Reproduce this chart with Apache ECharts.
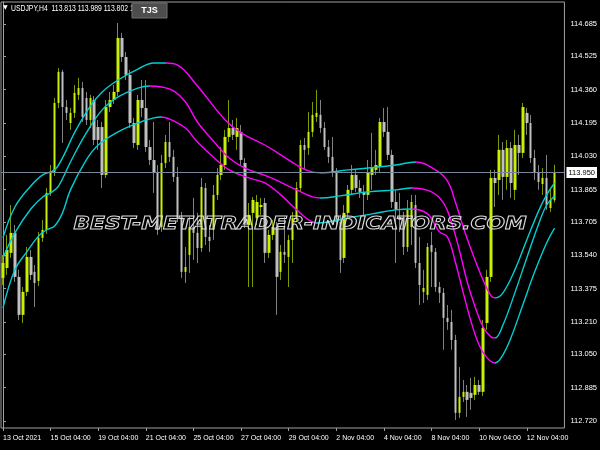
<!DOCTYPE html>
<html>
<head>
<meta charset="utf-8">
<script src="https://cdn.jsdelivr.net/npm/echarts@6/dist/echarts.min.js"></script>
<style>
  html, body { margin: 0; padding: 0; background: #000; }
  #chart { width: 600px; height: 450px; }
</style>
</head>
<body>
<div id="chart"></div>
<script>
// USDJPY H4 bars, [open, close, low, high]
var candles = [
  [113.428, 113.502, 113.393, 113.542], [113.477, 113.567, 113.443, 113.641], [113.552, 113.651, 113.527, 113.789],
  [113.651, 113.433, 113.408, 113.690], [113.433, 113.245, 113.220, 113.468], [113.245, 113.359, 113.205, 113.383],
  [113.359, 113.532, 113.339, 113.581], [113.532, 113.443, 113.418, 113.567], [113.458, 113.403, 113.284, 113.492],
  [113.413, 113.626, 113.388, 113.656], [113.626, 113.666, 113.606, 113.715], [113.666, 113.849, 113.646, 113.873],
  [113.849, 113.953, 113.834, 113.987], [113.953, 114.294, 113.933, 114.319], [114.294, 114.448, 114.269, 114.467],
  [114.448, 114.274, 114.096, 114.458], [114.274, 114.245, 114.210, 114.309], [114.195, 114.245, 114.161, 114.269],
  [114.245, 114.344, 114.220, 114.383], [114.334, 114.368, 114.309, 114.418], [114.368, 114.225, 114.200, 114.398],
  [114.319, 114.210, 114.185, 114.349], [114.210, 114.319, 114.170, 114.334], [114.309, 114.111, 114.086, 114.329],
  [114.175, 114.111, 114.062, 114.210], [114.175, 113.938, 113.873, 114.200], [113.938, 114.274, 113.923, 114.309],
  [114.274, 114.309, 114.250, 114.349], [114.309, 114.349, 114.289, 114.383], [114.349, 114.616, 114.329, 114.690],
  [114.616, 114.522, 114.497, 114.641], [114.522, 114.433, 114.408, 114.547], [114.433, 114.195, 114.170, 114.458],
  [114.195, 114.096, 114.071, 114.220], [114.086, 114.309, 114.062, 114.334], [114.309, 114.269, 114.225, 114.408],
  [114.269, 114.076, 114.052, 114.408], [114.076, 114.012, 113.987, 114.111], [114.012, 113.948, 113.849, 114.200],
  [113.953, 113.666, 113.641, 113.987], [113.680, 113.997, 113.656, 114.037], [113.997, 114.101, 113.972, 114.136],
  [114.101, 114.027, 114.002, 114.200], [114.027, 113.928, 113.903, 114.062], [113.928, 113.730, 113.705, 113.977],
  [113.730, 113.458, 113.428, 113.755], [113.458, 113.482, 113.403, 113.581], [113.542, 113.680, 113.453, 113.730],
  [113.680, 113.651, 113.517, 113.824], [113.651, 113.576, 113.502, 113.750], [113.576, 113.878, 113.557, 113.923],
  [113.873, 113.631, 113.591, 113.898], [113.631, 113.611, 113.557, 113.690], [113.666, 113.839, 113.616, 113.888],
  [113.839, 113.938, 113.814, 113.972], [113.938, 113.987, 113.913, 114.076], [113.987, 114.126, 113.963, 114.161],
  [114.126, 114.170, 114.101, 114.309], [114.170, 114.136, 114.111, 114.210], [114.126, 114.170, 114.062, 114.220],
  [114.151, 114.012, 113.987, 114.185], [113.997, 113.700, 113.675, 114.022], [113.690, 113.740, 113.383, 113.799],
  [113.750, 113.814, 113.383, 113.829], [113.725, 113.804, 113.690, 113.839], [113.779, 113.789, 113.740, 113.824],
  [113.799, 113.552, 113.502, 113.824], [113.552, 113.641, 113.527, 113.666], [113.641, 113.680, 113.616, 113.715],
  [113.680, 113.433, 113.245, 113.705], [113.458, 113.557, 113.418, 113.591], [113.557, 113.542, 113.502, 113.730],
  [113.532, 113.616, 113.383, 113.641], [113.616, 113.725, 113.502, 113.755], [113.725, 113.873, 113.705, 113.903],
  [113.873, 114.086, 113.854, 114.111], [114.086, 114.062, 113.963, 114.121], [114.071, 114.151, 114.037, 114.250],
  [114.151, 114.235, 114.126, 114.299], [114.225, 114.245, 114.200, 114.359], [114.235, 114.170, 114.146, 114.309],
  [114.170, 114.076, 114.062, 114.200], [114.076, 114.027, 113.997, 114.111], [114.027, 113.948, 113.928, 114.126],
  [113.948, 113.705, 113.675, 113.972], [113.705, 113.517, 113.453, 113.740], [113.527, 113.750, 113.502, 113.789],
  [113.750, 113.864, 113.725, 113.888], [113.864, 113.938, 113.839, 113.987], [113.938, 113.873, 113.854, 113.963],
  [113.873, 113.854, 113.824, 113.913], [113.854, 113.839, 113.740, 113.888], [113.839, 113.948, 113.814, 114.012],
  [113.938, 113.972, 113.864, 114.146], [113.963, 113.987, 113.938, 114.062], [113.977, 114.200, 113.953, 114.220],
  [114.200, 114.151, 114.126, 114.269], [114.151, 114.037, 114.012, 114.274], [114.037, 113.804, 113.774, 114.062],
  [113.804, 113.765, 113.502, 113.864], [113.715, 113.730, 113.656, 113.849], [113.730, 113.581, 113.542, 113.755],
  [113.581, 113.765, 113.557, 113.814], [113.680, 113.804, 113.591, 113.839], [113.789, 113.502, 113.477, 113.839],
  [113.502, 113.393, 113.294, 113.631], [113.359, 113.378, 113.304, 113.468], [113.344, 113.581, 113.319, 113.601],
  [113.591, 113.557, 113.383, 113.656], [113.557, 113.383, 113.359, 113.576], [113.383, 113.354, 113.304, 113.408],
  [113.354, 113.230, 113.072, 113.378], [113.230, 113.210, 113.171, 113.294], [113.210, 113.121, 113.072, 113.270],
  [113.121, 112.760, 112.725, 113.146], [112.760, 112.839, 112.735, 112.987], [112.839, 112.864, 112.814, 112.923],
  [112.864, 112.824, 112.740, 112.898], [112.859, 112.834, 112.775, 112.933], [112.849, 112.898, 112.824, 112.938],
  [112.898, 112.864, 112.849, 112.923], [112.864, 113.180, 112.844, 113.220], [113.205, 113.433, 113.171, 113.468],
  [113.433, 113.923, 113.408, 113.963], [113.923, 113.898, 113.779, 113.963], [113.913, 114.062, 113.839, 114.136],
  [114.062, 113.928, 113.814, 114.101], [113.928, 114.071, 113.864, 114.111], [114.071, 113.898, 113.824, 114.101],
  [113.864, 114.086, 113.814, 114.161], [114.086, 114.047, 113.938, 114.136], [114.047, 114.274, 114.022, 114.294],
  [114.245, 114.195, 114.136, 114.269], [114.195, 114.022, 113.997, 114.235], [114.022, 113.948, 113.913, 114.062],
  [113.948, 113.903, 113.864, 113.987], [113.893, 113.923, 113.839, 113.972], [113.923, 113.789, 113.765, 114.037],
  [113.774, 113.814, 113.755, 113.864], [113.813, 113.950, 113.802, 113.989]
];

// one date label every 12 bars
var timeLabels = ['13 Oct 2021', '15 Oct 04:00', '19 Oct 04:00', '21 Oct 04:00', '25 Oct 04:00', '27 Oct 04:00',
  '29 Oct 04:00', '2 Nov 04:00', '4 Nov 04:00', '8 Nov 04:00', '10 Nov 04:00', '12 Nov 04:00'];

var priceTicks = [114.685, 114.525, 114.360, 114.195, 114.030, 113.865, 113.705, 113.540,
  113.375, 113.210, 113.050, 112.885, 112.720];

// bands, [bar index, price]
var upperBand = [[0, 113.626], [3, 113.779], [7, 113.883], [10, 113.938], [13, 113.963], [15, 114.022],
  [18, 114.146], [22, 114.279], [25, 114.349], [29, 114.408], [34, 114.462], [38, 114.492], [41, 114.492],
  [44, 114.482], [49, 114.378], [56, 114.210], [60, 114.146], [66, 114.086], [70, 114.037], [74, 113.987],
  [77, 113.958], [80, 113.948], [87, 113.963], [92, 113.972], [99, 113.987], [104, 114.002], [109, 113.963],
  [112, 113.908], [114, 113.804], [116, 113.680], [118, 113.567], [121, 113.418], [123, 113.339],
  [124, 113.329], [126, 113.354], [129, 113.468], [132, 113.616], [135, 113.760], [137, 113.839], [139, 113.898]];

var middleBand = [[0, 113.527], [3, 113.651], [7, 113.769], [10, 113.829], [12, 113.849], [14, 113.883],
  [17, 114.002], [21, 114.146], [25, 114.260], [29, 114.324], [34, 114.368], [37, 114.378], [40, 114.373],
  [43, 114.354], [46, 114.299], [49, 114.200], [53, 114.106], [57, 114.022], [61, 113.972], [67, 113.928],
  [74, 113.864], [78, 113.829], [80, 113.824], [85, 113.834], [92, 113.854], [99, 113.864], [103, 113.873],
  [108, 113.854], [111, 113.799], [113, 113.705], [115, 113.567], [117, 113.408], [119, 113.284],
  [121, 113.185], [123, 113.136], [124, 113.131], [126, 113.195], [129, 113.354], [132, 113.527],
  [135, 113.695], [137, 113.789], [139, 113.834]];

var lowerBand = [[0, 113.279], [3, 113.468], [6, 113.557], [9, 113.636], [11, 113.666], [13, 113.685],
  [15, 113.750], [17, 113.864], [21, 114.012], [24, 114.086], [29, 114.151], [34, 114.195], [38, 114.220],
  [40, 114.225], [43, 114.205], [46, 114.170], [49, 114.101], [53, 114.027], [57, 113.963], [62, 113.923],
  [66, 113.898], [70, 113.839], [74, 113.765], [77, 113.715], [79, 113.700], [82, 113.705], [87, 113.725],
  [93, 113.745], [99, 113.765], [103, 113.769], [107, 113.745], [110, 113.656], [112, 113.631],
  [114, 113.507], [116, 113.354], [118, 113.210], [120, 113.096], [122, 113.032], [124, 113.007],
  [126, 113.047], [128, 113.131], [131, 113.294], [134, 113.458], [137, 113.601], [139, 113.675]];

// bars where each band flips between rising (cyan) and falling (magenta)
var upperTurns = [41, 80, 104, 124];
var middleTurns = [37, 80, 103, 124];
var lowerTurns = [40, 79, 103, 124];

var symbolName = 'USDJPY,H4';
var buttonText = 'TJS';
var watermarkText = 'BEST-METATRADER-INDICATORS.COM';

var BULL = '#c8f000';
var BEAR = '#c0c0c0';
var UP = '#00cfd2';
var DOWN = '#ff00ff';
var FRAME = '#a0a0a0';
var FONT = '"Liberation Sans", sans-serif';

var slots = candles.length + 2;
var categories = [];
for (var i = 0; i < slots; i++) categories.push(i);

var bodies = candles.map(function (c) {
  return [c[0], c[1], Math.min(c[0], c[1]), Math.max(c[0], c[1])];
});

var last = candles[candles.length - 1];
var header = symbolName + '  ' + [last[0], last[3], last[2], last[1]].map(function (v) {
  return v.toFixed(3);
}).join(' ');

function bandPieces(turns) {
  return [
    { lt: turns[0], color: UP },
    { gte: turns[0], lt: turns[1], color: DOWN },
    { gte: turns[1], lt: turns[2], color: UP },
    { gte: turns[2], lt: turns[3], color: DOWN },
    { gte: turns[3], color: UP }
  ];
}

function bandSeries(name, data) {
  return {
    name: name,
    type: 'line',
    xAxisIndex: 1,
    data: data,
    smooth: 0.4,
    symbol: 'none',
    lineStyle: { width: 1.4 },
    silent: true,
    z: 4
  };
}

function labelEvery12(index) {
  return index % 12 === 0 && index / 12 < timeLabels.length;
}

var chart = echarts.init(document.getElementById('chart'));
chart.setOption({
  backgroundColor: '#000',
  animation: false,
  grid: {
    left: 1, right: 32, top: 2, bottom: 22,
    show: true, borderColor: FRAME, borderWidth: 1
  },
  xAxis: [{
    type: 'category',
    data: categories,
    boundaryGap: true,
    axisLine: { show: false },
    axisTick: { show: true, interval: labelEvery12, alignWithLabel: true, length: 3, lineStyle: { color: FRAME } },
    axisLabel: {
      interval: labelEvery12,
      formatter: function (value, index) { return timeLabels[index / 12] || ''; },
      color: '#ffffff', fontSize: 7, fontFamily: FONT, align: 'left', margin: 7,
      hideOverlap: false
    },
    splitLine: { show: false }
  }, {
    type: 'value',
    min: -0.5,
    max: slots - 0.5,
    show: false
  }],
  yAxis: {
    type: 'value',
    position: 'right',
    min: 112.685,
    max: 114.794,
    splitLine: { show: false },
    axisLine: { show: true, lineStyle: { color: FRAME } },
    axisTick: { show: true, customValues: priceTicks, length: 3, lineStyle: { color: FRAME } },
    axisLabel: {
      customValues: priceTicks,
      formatter: function (v) { return v.toFixed(3); },
      color: '#ffffff', fontSize: 7.5, fontFamily: FONT, margin: 6
    }
  },
  visualMap: [
    { show: false, type: 'piecewise', seriesIndex: 2, dimension: 0, pieces: bandPieces(upperTurns) },
    { show: false, type: 'piecewise', seriesIndex: 3, dimension: 0, pieces: bandPieces(middleTurns) },
    { show: false, type: 'piecewise', seriesIndex: 4, dimension: 0, pieces: bandPieces(lowerTurns) }
  ],
  series: [
    {
      // wicks, drawn a shade darker than the bodies
      name: 'wicks',
      type: 'candlestick',
      data: candles,
      barWidth: 1,
      silent: true,
      itemStyle: {
        color: 'rgba(0,0,0,0)', color0: 'rgba(0,0,0,0)',
        borderColor: '#809800', borderColor0: '#808080', borderWidth: 1
      },
      z: 2
    },
    {
      name: 'bodies',
      type: 'candlestick',
      data: bodies,
      barWidth: 3,
      silent: true,
      itemStyle: {
        color: BULL, color0: BEAR,
        borderColor: BULL, borderColor0: BEAR, borderWidth: 0
      },
      markLine: {
        silent: true,
        symbol: ['none', 'none'],
        lineStyle: { color: '#778899', width: 1, type: 'solid' },
        label: {
          show: true, position: 'end', distance: 2,
          formatter: function (p) { return p.value.toFixed(3); },
          color: '#000', backgroundColor: '#ffffff', padding: [2, 2, 1, 2],
          fontSize: 7.5, fontFamily: FONT
        },
        data: [{ yAxis: last[1] }]
      },
      z: 3
    },
    bandSeries('upper', upperBand),
    bandSeries('middle', middleBand),
    bandSeries('lower', lowerBand)
  ],
  graphic: [
    {
      type: 'text', left: 3, top: 4, z: 10,
      style: { text: '\u25BC', fill: '#fff', font: '6px "DejaVu Sans"' }
    },
    {
      type: 'text', x: 11, y: 9, scaleX: 0.76, z: 10,
      style: { text: header, fill: '#fff', font: '9px "Liberation Sans"', textVerticalAlign: 'middle' }
    },
    {
      type: 'rect', shape: { x: 132, y: 3, width: 35, height: 15 }, z: 11,
      style: { fill: '#4d4d4d', stroke: '#707070', lineWidth: 1 }
    },
    {
      type: 'text', x: 149.5, y: 11, z: 12,
      style: { text: buttonText, fill: '#fff', font: 'bold 9px "Liberation Sans"', textAlign: 'center', textVerticalAlign: 'middle' }
    },
    {
      type: 'text', x: 300, y: 224, scaleX: 1.21, z: 20, silent: true,
      style: {
        text: watermarkText,
        font: 'italic bold 18px "DejaVu Sans"',
        fill: 'rgba(0,0,0,0)', stroke: '#d8d8d8', lineWidth: 1,
        textAlign: 'center', textVerticalAlign: 'middle'
      }
    }
  ]
});
</script>
</body>
</html>
